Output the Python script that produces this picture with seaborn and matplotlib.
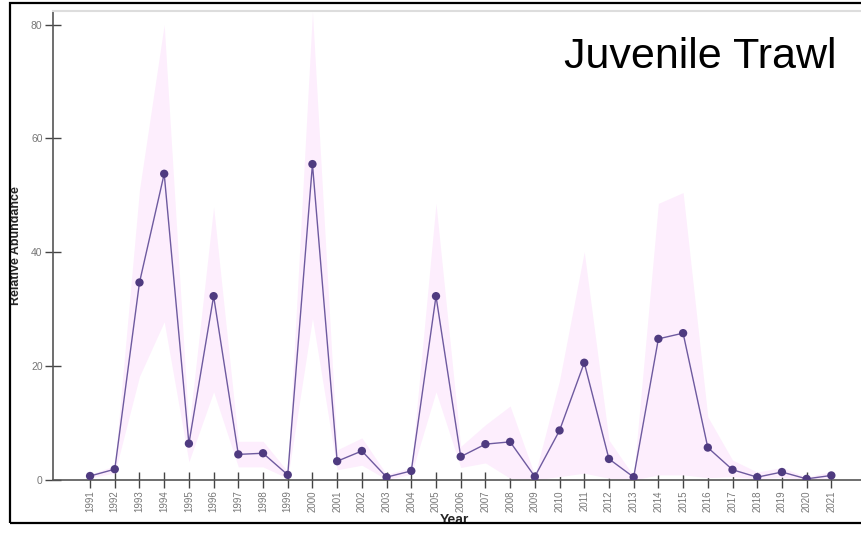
import numpy as np
import pandas as pd
import matplotlib
matplotlib.use("Agg")
import matplotlib.pyplot as plt
import seaborn as sns
from matplotlib.patches import Rectangle

years = list(range(1991, 2022))
abundance = [0.7, 1.9, 34.7, 53.8, 6.4, 32.3, 4.5, 4.7, 0.9, 55.5,
             3.3, 5.1, 0.5, 1.6, 32.3, 4.1, 6.3, 6.7, 0.6, 8.7,
             20.6, 3.7, 0.5, 24.8, 25.8, 5.7, 1.8, 0.5, 1.4, 0.2, 0.8]
upper = [1.0, 2.5, 51.0, 80.0, 9.0, 48.0, 6.8, 6.8, 1.5, 82.3,
         5.3, 7.4, 1.0, 2.2, 48.6, 5.9, 9.7, 13.0, 0.8, 17.5,
         40.1, 7.0, 0.7, 48.6, 50.5, 11.1, 3.5, 1.4, 2.2, 0.5, 1.5]
lower = [0.4, 1.2, 18.2, 27.8, 3.2, 15.5, 2.3, 2.3, 0.3, 28.4,
         1.8, 2.6, 0.1, 1.0, 15.5, 2.2, 3.0, 0.3, 0.0, 0.6,
         1.2, 0.3, 0.0, 0.9, 0.9, 0.4, 0.6, 0.2, 0.5, 0.0, 0.3]

df = pd.DataFrame({"Year": years, "Abundance": abundance,
                   "upper": upper, "lower": lower})

sns.set_style("white")
plt.rcParams['font.family'] = ['Liberation Sans', 'DejaVu Sans']

fig = plt.figure(figsize=(8.61, 5.34), dpi=100)
ax = fig.add_axes([53 / 861, 54 / 534, 1 - 53 / 861, (480 - 11) / 534])

ax.fill_between(df["Year"], df["lower"], df["upper"], color="#fdeefd",
                linewidth=0, zorder=1)
sns.lineplot(data=df, x="Year", y="Abundance", ax=ax, color="#6e5a9f",
             linewidth=1.0, zorder=2)
sns.scatterplot(data=df, x="Year", y="Abundance", ax=ax, color="#4f3b80",
                s=36, edgecolor="none", zorder=3)

ax.set_xlim(1989.5, 2022.2)
ax.set_ylim(0, 82.4)
ax.set_xticks(years)
ax.set_xticklabels([str(y) for y in years], rotation=90, fontsize=7,
                   color="#777777")
ax.set_yticks([0, 20, 40, 60, 80])
ax.set_yticklabels(["0", "20", "40", "60", "80"], fontsize=7.5,
                   color="#777777")
ax.tick_params(axis="both", direction="inout", length=11, width=1,
               color="#444444", pad=2, bottom=True, left=True)

for s in ["left", "bottom"]:
    ax.spines[s].set_color("#555555")
    ax.spines[s].set_linewidth(1.2)
ax.spines["top"].set_color("#dddddd")
ax.spines["top"].set_linewidth(1.5)
ax.spines["right"].set_visible(False)

ax.set_xlabel("Year", fontsize=10, fontweight="bold")
ax.set_ylabel("Relative Abundance", fontsize=9, fontweight="bold")
ax.xaxis.set_label_coords(0.497, -0.071)
ax.yaxis.set_label_coords(-0.038, 0.5)

ax.text(0.97, 0.945, "Juvenile Trawl", transform=ax.transAxes,
        ha="right", va="top", fontsize=31, color="black")

fig.patches.append(Rectangle((10 / 861, 11 / 534), 1.0, (523 - 3) / 534,
                             transform=fig.transFigure, fill=False,
                             edgecolor="black", linewidth=1.6))

fig.savefig("out.png", dpi=100)
